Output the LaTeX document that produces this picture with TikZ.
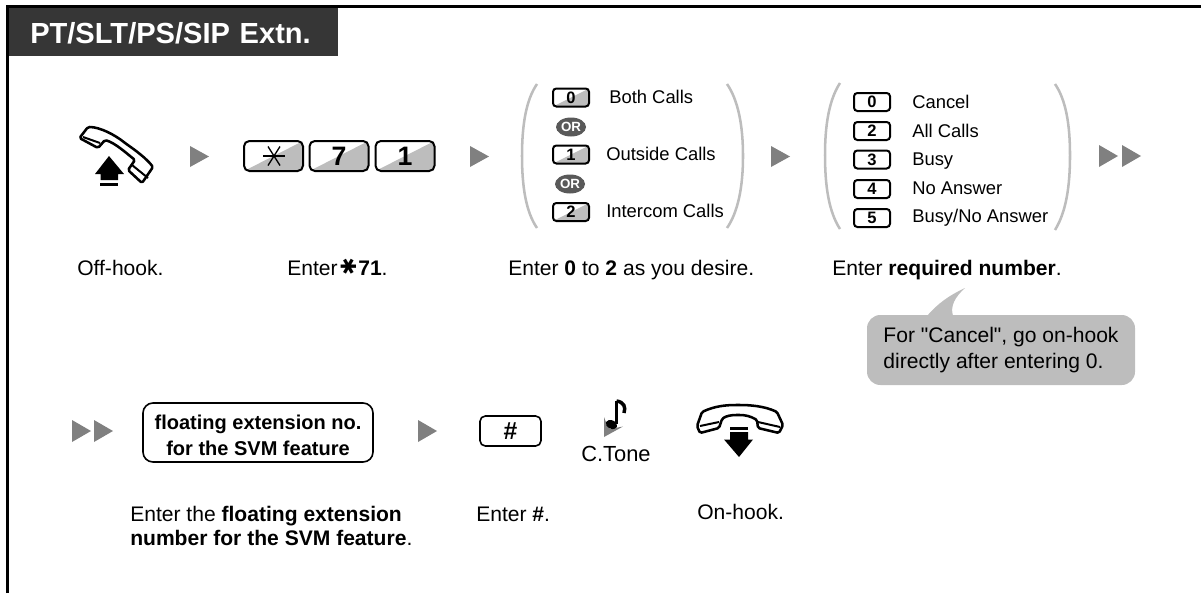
\documentclass[tikz,border=0pt]{standalone}
\usepackage{fontspec}
\setmainfont[Ligatures=TeXOff]{Liberation Sans}
\newfontfamily\symfont{DejaVu Sans}
\usepackage{tikz}
\usetikzlibrary{shapes.geometric}

\definecolor{headdark}{HTML}{363636}
\definecolor{softgray}{HTML}{BDBDBD}
\definecolor{arrowgray}{HTML}{808080}
\definecolor{ovalgray}{HTML}{595959}

\tikzset{
	steplabel/.style={anchor=base west,inner sep=0pt,font=\fontsize{15.8}{19}\selectfont},
	choicelabel/.style={anchor=base west,inner sep=0pt,font=\fontsize{13.8}{16}\selectfont},
	halfgray/.style={path picture={\fill[softgray] (path picture bounding box.south west)--(path picture bounding box.north east)--(path picture bounding box.south east)--cycle;}},
	bigkey/.style={draw,line width=1.5pt,rounded corners=4pt,inner sep=0pt,minimum width=44.25pt,minimum height=22.5pt,font=\fontsize{20}{20}\selectfont\bfseries},
	smallkey/.style={draw,line width=1.5pt,rounded corners=2.5pt,inner sep=0pt,minimum width=27pt,minimum height=13.5pt,font=\fontsize{12.4}{12.4}\selectfont\bfseries},
	orbadge/.style={ellipse,fill=ovalgray,text=white,inner sep=0pt,minimum width=22.5pt,minimum height=14.25pt,font=\fontsize{10}{10}\selectfont\bfseries},
	bracket/.style={softgray,line width=1.9pt},
	phoneline/.style={line width=1.9pt,line join=round,rounded corners=1.2pt},
	arrowfill/.style={fill=arrowgray},
}

\begin{document}
\begin{tikzpicture}[x=0.75pt,y=-0.75pt]
	\useasboundingbox (0,0) rectangle (1201,593);

	%frame and heading
	\draw[line width=1.9pt] (7.5,593)--(7.5,6.5)--(1201,6.5);
	\node[fill=headdark,text=white,anchor=north west,inner xsep=15.75pt,inner ysep=0pt,text width=215.25pt,text height=18pt,text depth=1.5pt,minimum height=36pt,font=\fontsize{21.8}{24}\selectfont\bfseries] (heading) at (9,8) {PT/SLT/PS/SIP Extn.};

	%off-hook handset
	\draw[phoneline] (79.5,138)--(88,127) .. controls (100,127) and (115,135) .. (125,143) .. controls (135,150) and (146,158) .. (153,167)--(142,183)--(128,170)--(135,160) .. controls (125,152) and (115,143) .. (105,140)--(98,148)--cycle;
	\draw[line width=1.5pt] (83,137)--(100,143);		%earpiece
	\draw[line width=1.5pt] (132,165)--(148,178);		%mouthpiece
	\fill (109,156)--(124,174)--(118,174)--(118,180)--(100.5,180)--(100.5,174)--(95,174)--cycle;
	\fill (100,183)rectangle(118,185.5);

	%top row arrows
	\fill[arrowfill] (190,146)--(209,156.5)--(190,167)--cycle;
	\fill[arrowfill] (470,146)--(489,156.5)--(470,167)--cycle;
	\fill[arrowfill] (771,146)--(790,156.5)--(771,167)--cycle;
	\fill[arrowfill] (1099,145)--(1118,156)--(1099,167)--cycle;
	\fill[arrowfill] (1122,145)--(1141,156)--(1122,167)--cycle;

	%feature number keys
	\node[bigkey,halfgray] (keystar) at (273.5,156) {};
	\node[bigkey,halfgray] (keyseven) at (339,156) {7};
	\node[bigkey,halfgray] (keyone) at (405,156) {1};
	\draw[line width=1pt] (263,156)--(285,156);
	\draw[line width=1pt] (268,146.5)--(280,165.5);
	\draw[line width=1pt] (268,165.5)--(280,146.5);

	%call type choice
	\draw[bracket] (537,84) .. controls (526,100) and (522,125) .. (522,156) .. controls (522,187) and (526,212) .. (537,228);
	\draw[bracket] (727,84) .. controls (738,100) and (743,125) .. (743,156) .. controls (743,187) and (738,212) .. (727,228);
	\node[smallkey,halfgray] (typezero) at (571,97.5) {0};
	\node[orbadge] (orone) at (571,127) {OR};
	\node[smallkey,halfgray] (typeone) at (571,154.5) {1};
	\node[orbadge] (ortwo) at (570,184) {OR};
	\node[smallkey,halfgray] (typetwo) at (571,212) {2};
	\node[choicelabel] (typebothtext) at (609,103) {Both Calls};
	\node[choicelabel] (typeoutsidetext) at (606,160.5) {Outside Calls};
	\node[choicelabel] (typeintercomtext) at (606,217) {Intercom Calls};

	%forward mode choice
	\draw[bracket] (840,83) .. controls (829,100) and (825,125) .. (825,155) .. controls (825,187) and (829,212) .. (840,229);
	\draw[bracket] (1055,84) .. controls (1066,100) and (1070,125) .. (1070,155) .. controls (1070,187) and (1066,212) .. (1055,230);
	\node[smallkey] (modezero) at (872,102) {0};
	\node[smallkey] (modetwo) at (872,131) {2};
	\node[smallkey] (modethree) at (872,159.5) {3};
	\node[smallkey] (modefour) at (872,189) {4};
	\node[smallkey] (modefive) at (872,218) {5};
	\node[choicelabel] (modecanceltext) at (912,108) {Cancel};
	\node[choicelabel] (modealltext) at (912,137) {All Calls};
	\node[choicelabel] (modebusytext) at (912,165) {Busy};
	\node[choicelabel] (modenotext) at (912,194) {No Answer};
	\node[choicelabel] (modeeithertext) at (912,222) {Busy/No Answer};

	%top row captions
	\node[steplabel] (offhooktext) at (77,275.5) {Off-hook.};
	\node[steplabel] (entertext) at (287,275.5) {Enter\hspace{3pt}{\symfont\rotatebox{90}{✱}}\hspace{1pt}\textbf{71}.};
	\node[steplabel] (choicetext) at (508,275.5) {Enter \textbf{0} to \textbf{2} as you desire.};
	\node[steplabel] (requiredtext) at (832,275.5) {Enter \textbf{required number}.};

	%note bubble
	\fill[softgray] (927,316) .. controls (938,303) and (950,295) .. (965,288) .. controls (955,297) and (950,306) .. (953,316)--cycle;
	\node[fill=softgray,rounded corners=10pt,inner sep=0pt,minimum width=201pt,minimum height=52.5pt,align=left,font=\fontsize{15.8}{19}\selectfont] (note) at (1001,350) {For "Cancel", go on-hook\\directly after entering 0.};

	%bottom row arrows
	\fill[arrowfill] (72,420)--(91,431)--(72,442)--cycle;
	\fill[arrowfill] (94,420)--(113,431)--(94,442)--cycle;
	\fill[arrowfill] (418,420)--(437,431)--(418,442)--cycle;

	%bottom row
	\node[draw,line width=1.2pt,rounded corners=7.5pt,inner sep=0pt,minimum width=172.5pt,minimum height=44.25pt] (floatbox) at (258,432.5) {};
	\node[inner sep=0pt,align=center,font=\fontsize{15}{20}\selectfont\bfseries] (floattext) at (258,435.5) {floating extension no.\\for the SVM feature};
	\node[draw,line width=1.2pt,rounded corners=4pt,inner sep=0pt,minimum width=45.75pt,minimum height=22.5pt,font=\fontsize{18.5}{18.5}\selectfont\bfseries] (keyhash) at (510.5,431) {\#};

	%confirmation tone
	\fill[arrowgray] (604,417)--(604,437)--(623,426.5)--(610,429) .. controls (607,426) and (606,422) .. (604,417);
	\fill[rotate around={-25:(611.5,424.5)}] (611.5,424.5) ellipse (6 and 4.2);
	\draw[line width=1.9pt] (616.5,424)--(616.5,400.5);
	\draw[line width=2.6pt] (616.5,401) .. controls (624,402) and (626,407) .. (624,413);
	\node[steplabel,font=\fontsize{16.4}{19}\selectfont] (tonetext) at (581,461) {C.Tone};

	%on-hook handset
	\draw[phoneline] (697,426)--(702,412) .. controls (715,406) and (726,405) .. (738,405) .. controls (750,405) and (764,406) .. (777,412)--(783,425)--(779,433)--(758,428)--(757,420) .. controls (750,416) and (745,415) .. (738,415) .. controls (731,415) and (726,416) .. (722,419)--(719,428)--(700,433)--cycle;
	\draw[line width=1.5pt] (700,426)--(719,422);		%left end
	\draw[line width=1.5pt] (758,422)--(780,427);		%right end
	\fill (739,457)--(753,439.5)--(748,439.5)--(748,432)--(730,432)--(730,439.5)--(724,439.5)--cycle;
	\fill (730,427)rectangle(748,429.5);

	%bottom row captions
	\node[steplabel] (svmonetext) at (130,521) {Enter the \textbf{floating extension}};
	\node[steplabel] (svmtwotext) at (130,545) {\textbf{number for the SVM feature}.};
	\node[steplabel] (hashtext) at (476,521) {Enter \textbf{\#}.};
	\node[steplabel] (onhooktext) at (697,519.5) {On-hook.};
\end{tikzpicture}
\end{document}
